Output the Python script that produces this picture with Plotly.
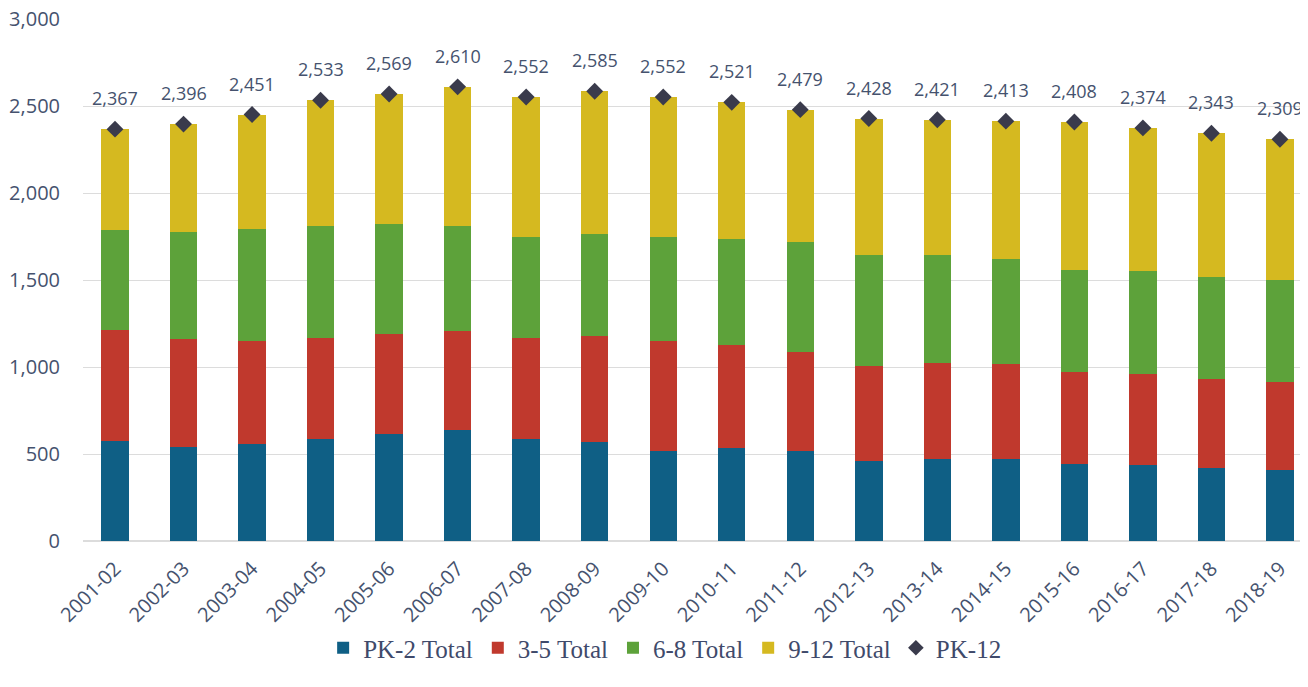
import plotly.graph_objects as go

years = ["2001-02", "2002-03", "2003-04", "2004-05", "2005-06", "2006-07",
         "2007-08", "2008-09", "2009-10", "2010-11", "2011-12", "2012-13",
         "2013-14", "2014-15", "2015-16", "2016-17", "2017-18", "2018-19"]
pk2 = [575, 540, 558, 587, 615, 638, 586, 569, 520, 532, 517, 458, 471, 471, 443, 437, 420, 408]
g35 = [638, 621, 592, 580, 575, 569, 581, 610, 627, 592, 570, 550, 553, 547, 529, 523, 512, 506]
g68 = [575, 616, 644, 644, 633, 604, 581, 586, 601, 610, 632, 637, 621, 604, 586, 593, 586, 587]
g912 = [579, 619, 657, 722, 746, 799, 804, 820, 804, 787, 760, 783, 776, 791, 850, 821, 825, 808]
pk12 = [2367, 2396, 2451, 2533, 2569, 2610, 2552, 2585, 2552, 2521, 2479, 2428, 2421, 2413, 2408, 2374, 2343, 2309]

text_color = "#45526e"
legend_font = dict(family="Liberation Serif, DejaVu Serif, serif", size=25, color="#3f4a6b")

fig = go.Figure()
for name, vals, col in [("PK-2 Total", pk2, "#0f5f85"),
                        ("3-5 Total", g35, "#c0392d"),
                        ("6-8 Total", g68, "#5da23a"),
                        ("9-12 Total", g912, "#d5b920")]:
    fig.add_trace(go.Bar(x=years, y=vals, name=name, marker=dict(color=col, line=dict(width=0))))

fig.add_trace(go.Scatter(x=years, y=pk12, name="PK-12", mode="markers",
                         marker=dict(symbol="diamond", size=13, color="#3a3b4c")))

for yr, tot in zip(years, pk12):
    fig.add_annotation(x=yr, y=tot, text=f"{tot:,}", showarrow=False, yshift=31,
                       font=dict(family="Open Sans, DejaVu Sans, sans-serif", size=18, color=text_color))

# page body has an 8px margin, so the figure is sized to fit the 1308x687 window
fig.update_layout(
    barmode="stack",
    bargap=0.6,
    width=1300, height=679,
    margin=dict(l=75, r=2, t=11, b=146, autoexpand=False),
    plot_bgcolor="white", paper_bgcolor="white",
    showlegend=True,
    legend=dict(orientation="h", x=0.476, xanchor="center", y=-0.205, yanchor="middle",
                font=legend_font, itemsizing="constant", traceorder="normal",
                itemwidth=30, tracegroupgap=0),
    font=dict(family="Open Sans, DejaVu Sans, sans-serif", color=text_color),
)
fig.update_xaxes(type="category", range=[-0.467, 17.38], tickangle=-45, showgrid=False,
                 showline=False, ticks="outside", ticklen=7, tickcolor="rgba(0,0,0,0)",
                 automargin=False, ticklabeloverflow="allow",
                 tickfont=dict(size=20, color=text_color))
fig.update_yaxes(range=[0, 3000], dtick=500, tickformat=",", showgrid=True, gridcolor="#dcdcdc",
                 gridwidth=1, zeroline=True, zerolinecolor="#dcdcdc", showline=False, ticks="",
                 automargin=False, ticklabeloverflow="allow", ticklabelstandoff=22,
                 tickfont=dict(size=20, color=text_color))

fig.write_html("out.html")
